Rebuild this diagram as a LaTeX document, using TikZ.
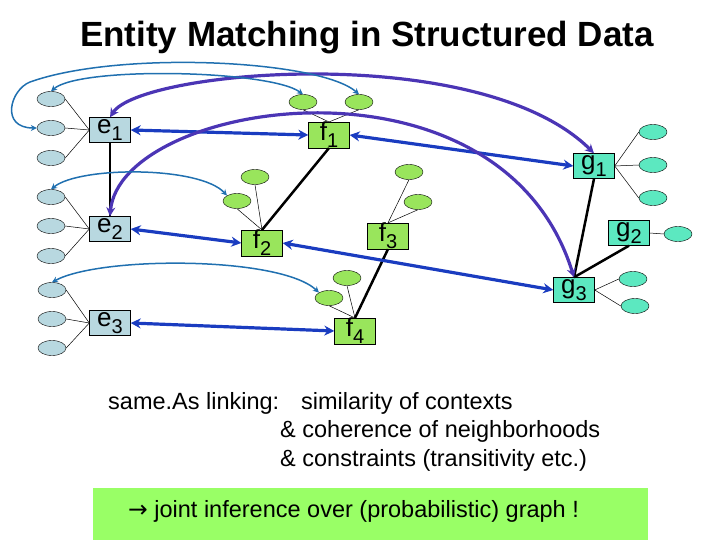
\documentclass[tikz,border=0pt]{standalone}
\usepackage{fontspec}
\setmainfont{Liberation Sans}
\newfontfamily\djv{DejaVu Sans}
\usetikzlibrary{arrows.meta,shapes.geometric}
\definecolor{ebox}{HTML}{B8D8E0}
\definecolor{fbox}{HTML}{99E55C}
\definecolor{gbox}{HTML}{5CE8C0}
\definecolor{dbl}{HTML}{1A3CC0}
\definecolor{purp}{HTML}{4B35B5}
\definecolor{thin}{HTML}{2070B0}
\definecolor{low}{HTML}{99FF66}
\tikzset{
 bx/.style={draw=black,minimum width=41pt,minimum height=25pt,inner sep=0pt,font=\fontsize{26}{26}\selectfont},
 eb/.style={bx,fill=ebox}, fb/.style={bx,fill=fbox}, gb/.style={bx,fill=gbox},
 ell/.style={draw=black,ellipse,minimum width=28pt,minimum height=15pt,inner sep=0pt},
 ee/.style={ell,fill=ebox}, fe/.style={ell,fill=fbox}, ge/.style={ell,fill=gbox},
 tl/.style={draw=black,line width=0.5pt},
 blk/.style={draw=black,line width=2.5pt},
 dbla/.style={draw=dbl,line width=3.2pt,{Stealth[length=10pt,width=10pt]}-{Stealth[length=10pt,width=10pt]}},
 pur/.style={draw=purp,line width=3.2pt,{Stealth[length=9pt,width=9pt]}-{Stealth[length=9pt,width=9pt]}},
 thn/.style={draw=thin,line width=1.5pt,{Stealth[length=6pt,width=6pt]}-{Stealth[length=6pt,width=6pt]}},
 txt/.style={font=\fontsize{23.5}{26}\selectfont,anchor=west,inner sep=0pt}
}
\newcommand{\sub}[2]{#1\raisebox{-0.5ex}{\fontsize{20}{20}\selectfont #2}}
\begin{document}
\begin{tikzpicture}[x=1pt,y=-1pt]
\useasboundingbox (0,0) rectangle (720,540);
\node[font=\bfseries\fontsize{35}{36}\selectfont] (title) at (367,38) {Entity Matching in Structured Data};
% boxes
\node[eb] (e1) at (110,130) {\sub{e}{1}};
\node[eb] (e2) at (110,229) {\sub{e}{2}};
\node[eb] (e3) at (110,323) {\sub{e}{3}};
\node[fb] (f1) at (329,135) {\sub{f}{1}};
\node[fb] (f2) at (262,243) {\sub{f}{2}};
\node[fb] (f3) at (388,236) {\sub{f}{3}};
\node[fb] (f4) at (355,331) {\sub{f}{4}};
\node[gb] (g1) at (594,166) {\sub{g}{1}};
\node[gb] (g2) at (629,233) {\sub{g}{2}};
\node[gb] (g3) at (574,290) {\sub{g}{3}};
% ellipses
\node[ee] (a1) at (51,99) {}; \node[ee] (a2) at (51,128) {}; \node[ee] (a3) at (51,158) {};
\node[ee] (b1) at (51,197) {}; \node[ee] (b2) at (51,226) {}; \node[ee] (b3) at (51,256) {};
\node[ee] (c1) at (52,290) {}; \node[ee] (c2) at (52,319) {}; \node[ee] (c3) at (52,348) {};
\node[fe] (p1) at (303,102) {}; \node[fe] (p2) at (359,102) {};
\node[fe] (q1) at (255,177) {}; \node[fe] (q2) at (237,201) {};
\node[fe] (r1) at (409,172) {}; \node[fe] (r2) at (418,202) {};
\node[fe] (s1) at (347,278) {}; \node[fe] (s2) at (329,298) {};
\node[ge] (h1) at (653,132) {}; \node[ge] (h2) at (653,165) {}; \node[ge] (h3) at (653,198) {};
\node[ge] (k1) at (678,234) {};
\node[ge] (m1) at (633,279) {}; \node[ge] (m2) at (635,306) {};
% thin lines
\foreach \n in {a1,a2,a3} \draw[tl] (\n.east) -- (e1.west);
\foreach \n in {b1,b2,b3} \draw[tl] (\n.east) -- (e2.west);
\foreach \n in {c1,c2,c3} \draw[tl] (\n.east) -- (e3.west);
\foreach \n in {p1,p2} \draw[tl] (\n.south) -- (f1.north);
\foreach \n in {q1,q2} \draw[tl] (\n.south) -- (f2.north);
\foreach \n in {r1,r2} \draw[tl] (\n.south) -- (f3.north);
\foreach \n in {s1,s2} \draw[tl] (\n.south) -- (f4.north);
\foreach \n in {h1,h2,h3} \draw[tl] (\n.west) -- (g1.east);
\draw[tl] (k1.west) -- (g2.east);
\foreach \n in {m1,m2} \draw[tl] (\n.west) -- (g3.east);
% black
\draw[blk] (e1.south) -- (e2.north);
\draw[blk] (f1.south) -- (f2.north);
\draw[blk] (f3.south) -- (f4.north);
\draw[blk] (g1.south) -- (g3.north);
\draw[blk] (g2.south) -- (g3.north);
% blue double
\draw[dbla] (e1.east) -- (f1.west);
\draw[dbla] (e2.east) -- (f2.west);
\draw[dbla] (e3.east) -- (f4.west);
\draw[dbla] (f1.east) -- (g1.west);
\draw[dbla] (f2.east) -- (g3.west);
% purple
\draw[pur] (e1.north) .. controls (140,70) and (480,40) .. (g1.north);
\draw[pur] (e2.north) .. controls (120,100) and (500,40) .. (g3.north);
% thin teal
\draw[thn] (a2.west) .. controls (0,128) and (10,90) .. (30,82) .. controls (120,50) and (320,60) .. (p2.north);
\draw[thn] (a1.north) .. controls (80,66) and (270,70) .. (p1.north);
\draw[thn] (b1.north) .. controls (80,166) and (200,166) .. (q2.north west);
\draw[thn] (c1.north) .. controls (100,256) and (280,256) .. (s2.north west);
% text
\node[txt] (t1) at (108,403) {same.As linking:};
\node[txt] (t2) at (301,403) {similarity of contexts};
\node[txt] (t3) at (280,431) {\& coherence of neighborhoods};
\node[txt] (t4) at (280,460) {\& constraints (transitivity etc.)};
\node[fill=low,minimum width=555pt,minimum height=52pt,inner sep=0pt] (gbx) at (370.5,514) {};
\node[txt] (t5) at (128,511) {{\djv →} joint inference over (probabilistic) graph !};
\end{tikzpicture}
\end{document}
